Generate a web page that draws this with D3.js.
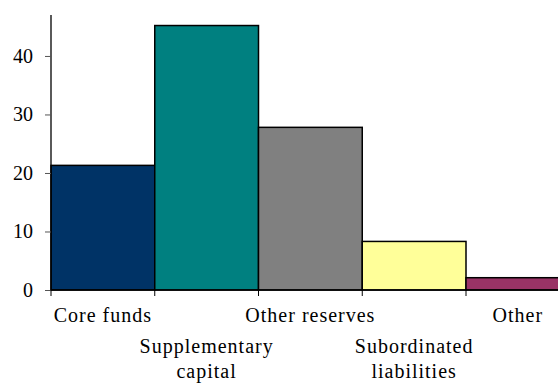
<!DOCTYPE html>
<html><head><meta charset="utf-8">
<script src="https://cdn.jsdelivr.net/npm/d3@7"></script>
<style>html,body{margin:0;padding:0;background:#fff;overflow:hidden}
svg text{font-family:"Liberation Serif","Times New Roman",Times,serif !important;}
</style>
</head><body>
<svg id="c" width="558" height="383"></svg>
<script>
const categories = ["Core funds", "Supplementary capital", "Other reserves", "Subordinated liabilities", "Other"];
const labelLines = [["Core funds"], ["Supplementary", "capital"], ["Other reserves"], ["Subordinated", "liabilities"], ["Other"]];
const values = [21.3, 45.2, 27.8, 8.3, 2.1];
const colors = ["#003366", "#008080", "#808080", "#FFFF99", "#993366"];
const yTicks = [0, 10, 20, 30, 40];

const svg = d3.select("#c");
const x0 = 51, bw = 103.75;
const x = d3.scaleBand().domain(categories).range([x0, x0 + bw * categories.length]).padding(0);
const y = d3.scaleLinear().domain([0, 47]).range([290, 15]);

// bars
svg.append("g").selectAll("rect").data(categories).join("rect")
  .attr("x", d => x(d))
  .attr("y", (d, i) => y(values[i]))
  .attr("width", x.bandwidth())
  .attr("height", (d, i) => y(0) - y(values[i]))
  .attr("fill", (d, i) => colors[i])
  .attr("stroke", "#000").attr("stroke-width", 1.5);

// y axis
const ya = svg.append("g").attr("transform", `translate(${x0},0)`)
  .call(d3.axisLeft(y).tickValues(yTicks).tickSize(6).tickPadding(12).tickFormat(d3.format("d")));
ya.select(".domain").attr("d", `M0,${y(47)}V${y(0)}`).attr("stroke", "#000").attr("stroke-width", 1.3);
ya.selectAll(".tick line").attr("stroke", "#555");
ya.selectAll(".tick text").attr("font-size", 20).attr("fill", "#000");

// x axis line and ticks at band boundaries
const boundaries = categories.map(c => x(c));
svg.append("line").attr("x1", x0).attr("x2", 558).attr("y1", y(0)).attr("y2", y(0))
  .attr("stroke", "#000").attr("stroke-width", 1.3);
svg.append("g").selectAll("line").data(boundaries).join("line")
  .attr("x1", d => d).attr("x2", d => d).attr("y1", y(0)).attr("y2", y(0) + 6)
  .attr("stroke", "#000").attr("stroke-width", 1);

// x labels (alternating rows)
const lg = svg.append("g").attr("font-size", 20).attr("text-anchor", "middle").attr("fill", "#000");
labelLines.forEach((lines, i) => {
  const cx = x(categories[i]) + x.bandwidth() / 2;
  const baseY = i % 2 === 0 ? [322] : [353, 378];
  lines.forEach((t, j) => {
    lg.append("text").attr("x", cx).attr("y", baseY[j]).attr("letter-spacing", 1.0).text(t);
  });
});
</script>
</body></html>
